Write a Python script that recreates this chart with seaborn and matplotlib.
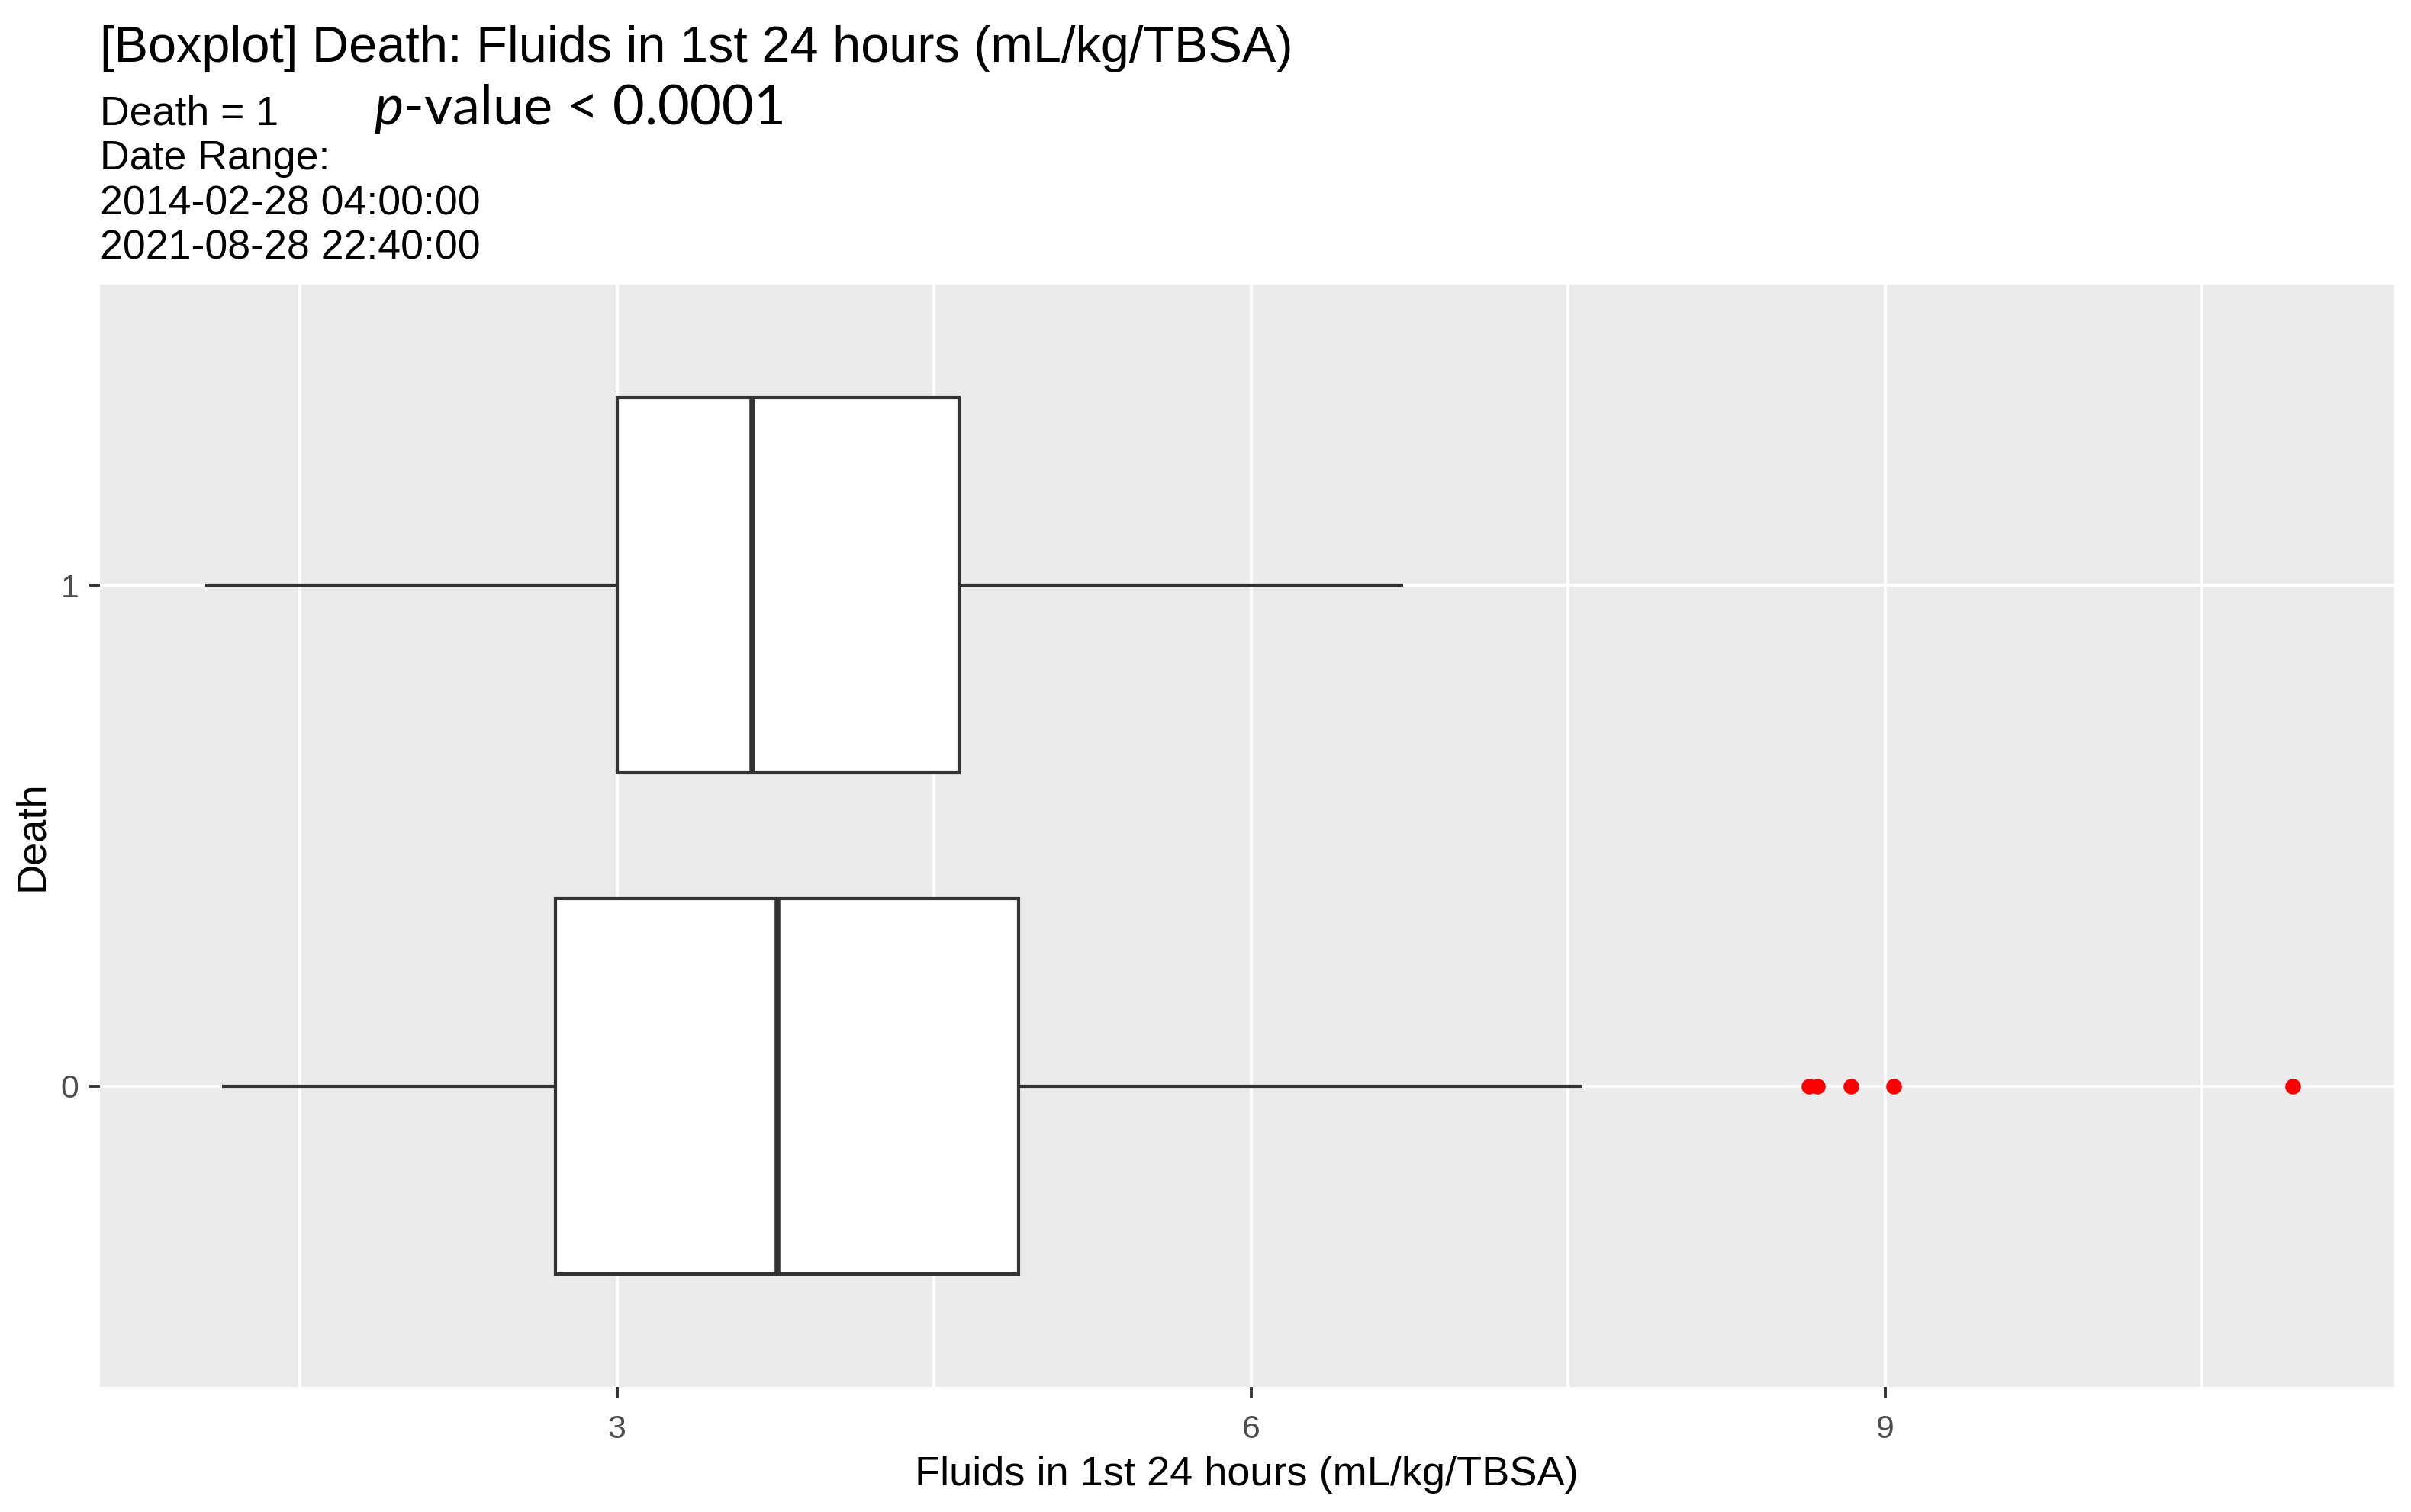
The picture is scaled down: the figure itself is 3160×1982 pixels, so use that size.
import numpy as np
import pandas as pd
import matplotlib
matplotlib.use("Agg")
import matplotlib.pyplot as plt
from matplotlib.ticker import FixedLocator
import seaborn as sns

# ---- data ----
groups = ["1", "0"]                      # Death, top to bottom
five_num_death1 = [1.05, 3.00, 3.64, 4.62, 6.72]   # whisker low, Q1, median, Q3, whisker high
five_num_death0 = [1.13, 2.71, 3.76, 4.90, 7.57]
outliers_death0 = [8.64, 8.68, 8.84, 9.04, 10.93]
x_ticks = [3, 6, 9]
x_minor = [1.5, 4.5, 7.5, 10.5]

title = "[Boxplot] Death: Fluids in 1st 24 hours (mL/kg/TBSA)"
subtitle_lines = ["Death = 1", "Date Range:", "2014-02-28 04:00:00", "2021-08-28 22:40:00"]
pvalue_text = r"$\mathit{p}$-value < 0.0001"
x_label = "Fluids in 1st 24 hours (mL/kg/TBSA)"
y_label = "Death"

df = pd.DataFrame({
    "Death": ["1"] * len(five_num_death1) + ["0"] * len(five_num_death0),
    "value": five_num_death1 + five_num_death0,
})
df_out = pd.DataFrame({"Death": ["0"] * len(outliers_death0), "value": outliers_death0})

# ---- figure ----
W, H, DPI = 3160, 1982, 200
sns.set_theme(style="darkgrid")
plt.rcParams["font.family"] = ["Liberation Sans", "DejaVu Sans"]
plt.rcParams["mathtext.fontset"] = "custom"
plt.rcParams["mathtext.it"] = "Lato:italic"
plt.rcParams["mathtext.rm"] = "Lato"

fig = plt.figure(figsize=(W / DPI, H / DPI), dpi=DPI, facecolor="white")
left, right, top, bottom = 131, 3138, 373, 1818
ax = fig.add_axes([left / W, 1 - bottom / H, (right - left) / W, (bottom - top) / H])
ax.set_facecolor("#EBEBEB")

line_c = "#333333"
sns.boxplot(data=df, x="value", y="Death", order=groups, orient="h", ax=ax,
            color="white", saturation=1, linecolor=line_c, linewidth=1.5,
            width=0.75, showfliers=False, showcaps=False,
            medianprops={"linewidth": 2.7, "color": line_c}, zorder=3)
sns.stripplot(data=df_out, x="value", y="Death", order=groups, orient="h", ax=ax,
              jitter=False, color="red", size=7.4, linewidth=0, zorder=4)

ax.set_xlim(0.553, 11.41)
ax.set_ylim(1.6, -0.6)
ax.xaxis.set_major_locator(FixedLocator(x_ticks))
ax.xaxis.set_minor_locator(FixedLocator(x_minor))
ax.set_xticklabels([str(t) for t in x_ticks])
ax.grid(True, which="major", color="white", linewidth=1.4)
ax.grid(True, which="minor", axis="x", color="white", linewidth=1.4)
ax.set_axisbelow(True)
for s in ax.spines.values():
    s.set_visible(False)
ax.tick_params(axis="both", which="major", length=5, width=1.4, color=line_c,
               labelcolor="#4D4D4D", labelsize=15.4, pad=5, bottom=True, left=True)
ax.tick_params(axis="x", which="major", pad=8)
ax.tick_params(which="minor", length=0)
ax.set_xlabel("")
ax.set_ylabel("")

def ftext(xp, yp, s, **kw):
    return fig.text(xp / W, 1 - yp / H, s, **kw)

ftext(131, 81, title, fontsize=24, color="black", va="baseline", ha="left")
ys = [163, 222, 281, 340]
for yp, s in zip(ys, subtitle_lines):
    ftext(131, yp, s, fontsize=19.3, color="black", va="baseline", ha="left")
ftext(490, 163, pvalue_text, fontsize=26, color="black", va="baseline", ha="left",
      family="Lato")
ftext(1634, 1947, x_label, fontsize=19.5, color="black", va="baseline", ha="center")
ftext(42, 1096, y_label, fontsize=19.5, color="black", va="center", ha="center", rotation=90)

fig.savefig("out.png", dpi=DPI, facecolor="white")
